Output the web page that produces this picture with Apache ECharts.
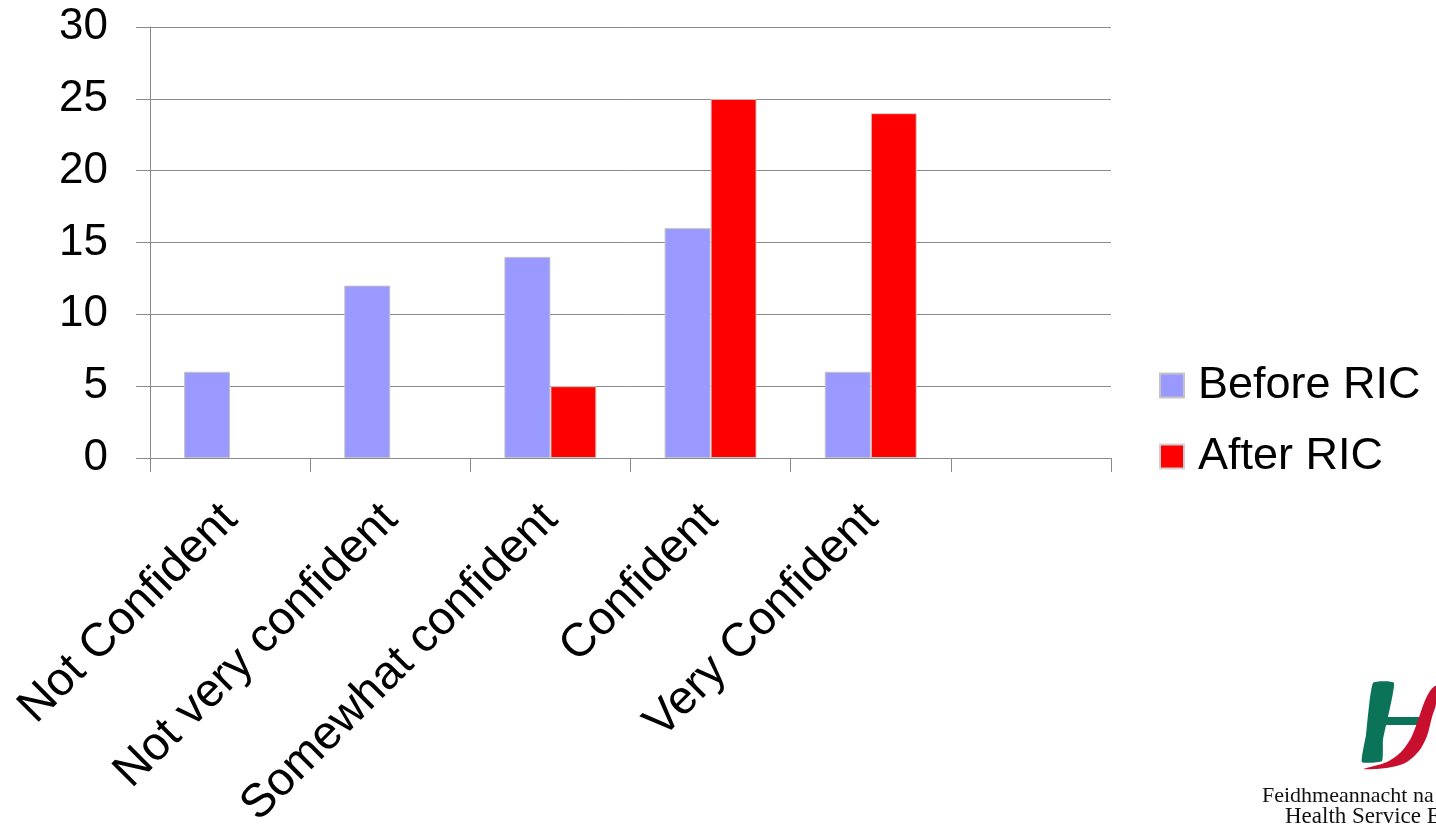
<!DOCTYPE html>
<html>
<head>
<meta charset="utf-8">
<script src="https://cdn.jsdelivr.net/npm/echarts@6/dist/echarts.min.js"></script>
<style>
html,body{margin:0;padding:0;background:#fff;}
#chart{width:1436px;height:825px;}
</style>
</head>
<body>
<div id="chart"></div>
<script>
const categories = ['Not Confident', 'Not very confident', 'Somewhat confident', 'Confident', 'Very Confident', ''];
const beforeRIC = [6, 12, 14, 16, 6, null];
const afterRIC = [0, 0, 5, 25, 24, null];
const yTicks = [0, 5, 10, 15, 20, 25, 30];
const seriesNames = ['Before RIC', 'After RIC'];

const chart = echarts.init(document.getElementById('chart'));
const font = '"Liberation Sans", Arial, sans-serif';
const axisGray = '#8a8a8a';
const showZeroAsEmpty = v => (v === 0 ? null : v);

chart.setOption({
  animation: false,
  backgroundColor: '#ffffff',
  grid: { left: 150, right: 325, top: 27, bottom: 367, containLabel: false, outerBoundsMode: 'none' },
  legend: {
    orient: 'vertical',
    left: 1159,
    top: 363,
    padding: 0,
    itemWidth: 24,
    itemHeight: 24,
    itemGap: 26,
    icon: 'rect',
    data: seriesNames,
    textStyle: { fontFamily: font, fontSize: 45, color: '#000', lineHeight: 43, padding: [0, 0, 0, 9] }
  },
  xAxis: {
    type: 'category',
    data: categories,
    axisLine: { show: true, lineStyle: { color: axisGray, width: 1 } },
    axisTick: { show: true, length: 14, lineStyle: { color: axisGray, width: 1 } },
    axisLabel: { interval: 0, rotate: 45, margin: 54, fontFamily: font, fontSize: 47, color: '#000' }
  },
  yAxis: {
    type: 'value',
    min: yTicks[0],
    max: yTicks[yTicks.length - 1],
    interval: 5,
    axisLine: { show: true, lineStyle: { color: axisGray, width: 1 } },
    axisTick: { show: true, length: 14, lineStyle: { color: axisGray, width: 1 } },
    splitLine: { show: true, lineStyle: { color: axisGray, width: 1 } },
    axisLabel: { margin: 42, fontFamily: font, fontSize: 44, color: '#000' }
  },
  series: [
    {
      name: seriesNames[0], type: 'bar', data: beforeRIC.map(showZeroAsEmpty), barWidth: 46, barGap: '0%',
      itemStyle: { color: '#9999FF', borderColor: '#c4c4c4', borderWidth: 1 }
    },
    {
      name: seriesNames[1], type: 'bar', data: afterRIC.map(showZeroAsEmpty), barWidth: 46, barGap: '0%',
      itemStyle: { color: '#FF0000', borderColor: '#d0d0d0', borderWidth: 1 }
    }
  ],
  graphic: [
    { type: 'polygon', shape: { smooth: 0.15, points: [[1373, 683], [1394, 683], [1383, 740], [1382, 761], [1362, 762], [1366, 735]] }, style: { fill: '#0b7358' } },
    { type: 'polygon', shape: { points: [[1381, 717], [1424, 717], [1421, 725], [1379, 725]] }, style: { fill: '#0b7358' } },
    { type: 'polygon', shape: { smooth: 0.3, points: [[1364, 769], [1386, 768], [1405, 763], [1419, 751], [1427, 736], [1432, 717], [1436, 704], [1436, 686], [1430, 691], [1424, 703], [1418, 720], [1411, 738], [1401, 752], [1387, 762]] }, style: { fill: '#c8102e' } },
    { type: 'text', left: 1262, top: 785, style: { text: 'Feidhmeannacht na Seirbhíse Sláinte', font: '22px "Liberation Serif", "Times New Roman", serif', fill: '#111' } },
    { type: 'text', left: 1285, top: 805, style: { text: 'Health Service Executive', font: '23px "Liberation Serif", "Times New Roman", serif', fill: '#111' } }
  ]
});
</script>
</body>
</html>
